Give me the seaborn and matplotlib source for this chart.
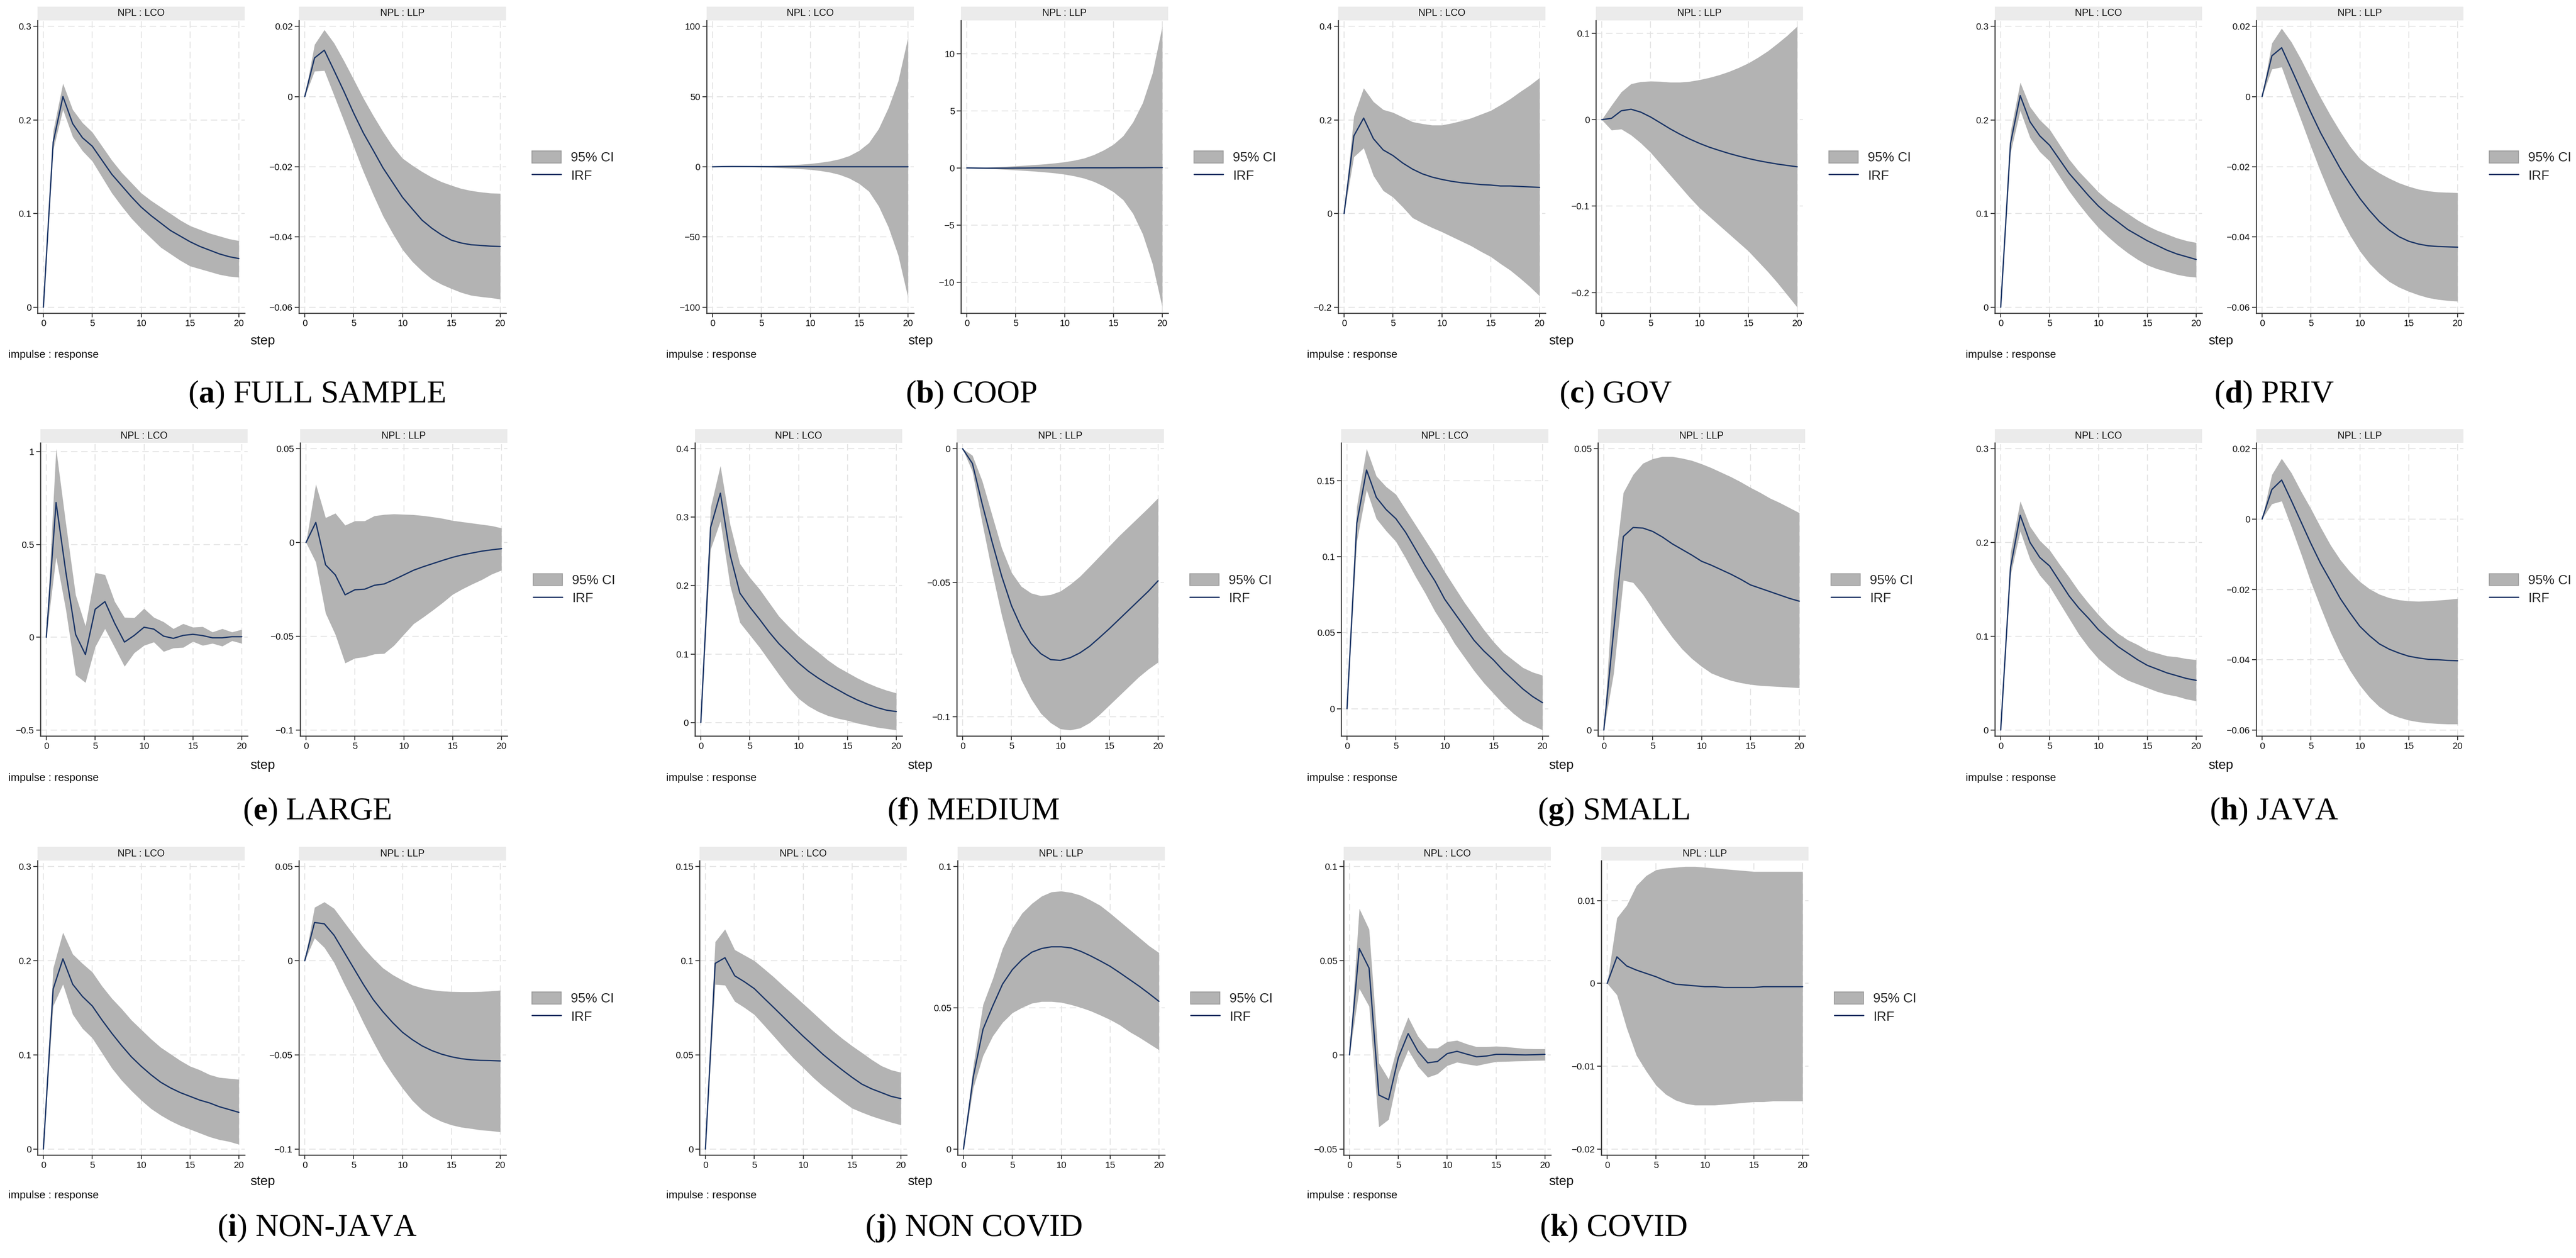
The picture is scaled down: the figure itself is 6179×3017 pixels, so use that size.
import matplotlib
matplotlib.use("Agg")
import matplotlib.pyplot as plt
import seaborn as sns
from matplotlib.patches import Rectangle, Patch
from matplotlib.lines import Line2D

# ---------------- data ----------------
STEPS = [0, 1, 2, 3, 4, 5, 6, 7, 8, 9, 10, 11, 12, 13, 14, 15, 16, 17, 18, 19, 20]
X_TICKS = [0, 5, 10, 15, 20]
PANEL_TITLES = ["NPL : LCO", "NPL : LLP"]
LEGEND_LABELS = ["95% CI", "IRF"]

# (a) FULL SAMPLE
A_LCO_IRF = [0, .176, .225, .196, .181, .172, .157, .142, .130, .118, .107, .098, .090, .082, .076, .070, .065, .061, .057, .054, .052]
A_LCO_LO = [0, .168, .211, .182, .167, .156, .139, .122, .108, .095, .084, .074, .064, .057, .050, .044, .041, .038, .035, .033, .032]
A_LCO_HI = [0, .188, .239, .211, .197, .187, .172, .157, .144, .133, .122, .114, .107, .100, .093, .087, .083, .079, .076, .073, .071]
A_LCO_TICKS = [0, 0.1, 0.2, 0.3]
A_LLP_IRF = [0, .0110, .0132, .0074, .0015, -.0047, -.0104, -.0153, -.0203, -.0245, -.0287, -.0320, -.0352, -.0375, -.0394, -.0409, -.0417, -.0422, -.0424, -.0426, -.0427]
A_LLP_LO = [0, .0072, .0074, .0003, -.0069, -.0142, -.0214, -.0279, -.0340, -.0390, -.0436, -.0470, -.0497, -.0520, -.0535, -.0547, -.0558, -.0566, -.0570, -.0573, -.0577]
A_LLP_HI = [0, .0148, .0190, .0152, .0102, .0049, -.0005, -.0054, -.0100, -.0142, -.0176, -.0196, -.0214, -.0230, -.0243, -.0253, -.0262, -.0268, -.0272, -.0275, -.0276]
A_LLP_TICKS = [-0.06, -0.04, -0.02, 0, 0.02]

# (b) COOP
B_LCO_IRF = [0, .15, .2, .18, .16, .14, .12, .1, .09, .08, .07, .06, .05, .05, .04, .04, .03, .03, .03, .02, .02]
B_LCO_LO = [0, -.05, -.05, -.1, -.2, -.35, -.5, -.75, -1.1, -1.5, -2.0, -2.8, -3.9, -5.6, -8.2, -12, -17.5, -28, -43, -63, -93]
B_LCO_HI = [0, .3, .4, .45, .5, .6, .75, 1.0, 1.3, 1.7, 2.2, 3.0, 4.0, 5.5, 7.8, 11.5, 17, 27, 42, 61, 92]
B_LCO_TICKS = [-100, -50, 0, 50, 100]
B_LLP_IRF = [0, -.01, -.02, -.02, -.02, -.01, -.01, 0, 0, 0, 0, 0, .01, .01, .01, .01, .02, .02, .02, .03, .03]
B_LLP_LO = [0, -.05, -.07, -.1, -.14, -.19, -.24, -.30, -.37, -.45, -.56, -.71, -.91, -1.2, -1.6, -2.1, -2.8, -4.0, -5.8, -8.4, -12.2]
B_LLP_HI = [0, .03, .05, .08, .12, .17, .22, .28, .34, .42, .52, .66, .85, 1.15, 1.55, 2.05, 2.8, 4.0, 5.7, 8.3, 12.4]
B_LLP_TICKS = [-10, -5, 0, 5, 10]

# (c) GOV
C_LCO_IRF = [0, .166, .204, .160, .136, .124, .108, .095, .085, .078, .073, .069, .066, .064, .062, .061, .059, .059, .058, .057, .056]
C_LCO_LO = [0, .121, .140, .081, .049, .035, .014, -.009, -.020, -.030, -.039, -.049, -.059, -.069, -.081, -.092, -.107, -.121, -.138, -.156, -.176]
C_LCO_HI = [0, .208, .268, .239, .222, .216, .206, .196, .192, .189, .189, .193, .198, .204, .212, .220, .232, .245, .260, .274, .290]
C_LCO_TICKS = [-0.2, 0, 0.2, 0.4]
C_LLP_IRF = [0, .0016, .0103, .0121, .0087, .0031, -.0037, -.0106, -.0168, -.0224, -.0274, -.0318, -.0355, -.0390, -.0421, -.0449, -.0474, -.0495, -.0514, -.0530, -.0545]
C_LLP_LO = [0, -.0121, -.0109, -.0178, -.0271, -.0380, -.0510, -.0640, -.0770, -.0900, -.1020, -.1120, -.1220, -.1320, -.1420, -.1520, -.1640, -.1760, -.1890, -.2030, -.2170]
C_LLP_HI = [0, .0165, .0320, .0414, .0439, .0445, .0442, .0433, .0433, .0442, .0461, .0486, .0517, .0555, .0601, .0654, .0720, .0794, .0882, .0975, .1080]
C_LLP_TICKS = [-0.2, -0.1, 0, 0.1]

# (d) PRIV
D_LCO_IRF = [0, .175, .226, .198, .183, .173, .158, .143, .131, .119, .108, .099, .091, .083, .077, .071, .066, .061, .057, .054, .051]
D_LCO_LO = [0, .165, .210, .181, .166, .156, .140, .124, .110, .097, .085, .075, .066, .058, .051, .045, .041, .038, .035, .033, .032]
D_LCO_HI = [0, .187, .240, .214, .200, .190, .174, .158, .145, .134, .123, .114, .107, .100, .093, .087, .082, .078, .074, .071, .069]
D_LCO_TICKS = [0, 0.1, 0.2, 0.3]
D_LLP_IRF = [0, .0116, .0139, .0078, .0016, -.0046, -.0104, -.0155, -.0205, -.0249, -.0290, -.0325, -.0356, -.0380, -.0399, -.0412, -.0420, -.0425, -.0427, -.0428, -.0429]
D_LLP_LO = [0, .0078, .0084, .0006, -.0068, -.0143, -.0215, -.0282, -.0343, -.0395, -.0440, -.0476, -.0504, -.0527, -.0543, -.0555, -.0565, -.0573, -.0578, -.0581, -.0583]
D_LLP_HI = [0, .0152, .0194, .0155, .0105, .0050, -.0004, -.0054, -.0100, -.0142, -.0177, -.0200, -.0218, -.0233, -.0246, -.0256, -.0264, -.0269, -.0272, -.0273, -.0274]
D_LLP_TICKS = [-0.06, -0.04, -0.02, 0, 0.02]

# (e) LARGE
E_LCO_IRF = [0, .726, .351, .015, -.093, .151, .192, .075, -.026, .010, .054, .044, .006, -.006, .010, .016, .009, -.003, -.003, .003, .003]
E_LCO_LO = [0, .431, .148, -.203, -.244, -.052, .046, -.055, -.157, -.084, -.044, -.026, -.077, -.058, -.055, -.023, -.044, -.033, -.048, -.019, -.033]
E_LCO_HI = [0, 1.016, .612, .228, .061, .348, .337, .192, .107, .105, .155, .107, .083, .046, .073, .054, .057, .028, .046, .028, .042]
E_LCO_TICKS = [-0.5, 0, 0.5, 1]
E_LLP_IRF = [0, .0107, -.0119, -.0173, -.0279, -.0252, -.0249, -.0228, -.0221, -.0198, -.0173, -.0148, -.0129, -.0112, -.0095, -.0079, -.0066, -.0056, -.0046, -.0039, -.0033]
E_LLP_LO = [0, -.0105, -.0377, -.0491, -.0643, -.0617, -.0610, -.0595, -.0592, -.0549, -.0491, -.0434, -.0398, -.0360, -.0320, -.0277, -.0248, -.0222, -.0198, -.0169, -.0148]
E_LLP_HI = [0, .0311, .0132, .0156, .0092, .0115, .0115, .0142, .0149, .0152, .0150, .0148, .0143, .0136, .0128, .0117, .0110, .0103, .0096, .0089, .0077]
E_LLP_TICKS = [-0.1, -0.05, 0, 0.05]

# (f) MEDIUM
F_LCO_IRF = [0, .285, .335, .245, .189, .169, .151, .132, .115, .101, .087, .075, .065, .056, .048, .040, .033, .027, .022, .018, .016]
F_LCO_LO = [0, .253, .294, .200, .146, .128, .110, .090, .070, .051, .035, .024, .016, .010, .006, .003, -.001, -.004, -.007, -.009, -.011]
F_LCO_HI = [0, .314, .375, .289, .232, .212, .195, .175, .155, .140, .126, .114, .103, .091, .081, .073, .065, .058, .052, .047, .043]
F_LCO_TICKS = [0, 0.1, 0.2, 0.3, 0.4]
F_LLP_IRF = [0, -.0055, -.0206, -.0346, -.0476, -.0586, -.0667, -.0727, -.0765, -.0787, -.0790, -.0780, -.0762, -.0737, -.0705, -.0672, -.0637, -.0602, -.0567, -.0532, -.0493]
F_LLP_LO = [0, -.0085, -.0276, -.0457, -.0622, -.0762, -.0863, -.0933, -.0988, -.1023, -.1046, -.1050, -.1043, -.1023, -.0993, -.0958, -.0923, -.0888, -.0853, -.0823, -.0797]
F_LLP_HI = [0, -.0025, -.0120, -.0246, -.0371, -.0462, -.0514, -.0539, -.0549, -.0545, -.0532, -.0507, -.0477, -.0440, -.0402, -.0364, -.0326, -.0291, -.0256, -.0221, -.0184]
F_LLP_TICKS = [-0.1, -0.05, 0]

# (g) SMALL
G_LCO_IRF = [0, .122, .157, .139, .131, .125, .116, .105, .094, .084, .072, .063, .054, .045, .038, .032, .025, .019, .013, .008, .004]
G_LCO_LO = [0, .110, .144, .125, .117, .110, .099, .087, .076, .064, .054, .043, .034, .025, .017, .010, .003, -.003, -.008, -.011, -.014]
G_LCO_HI = [0, .133, .171, .153, .146, .141, .131, .121, .111, .101, .090, .080, .070, .061, .052, .044, .037, .032, .027, .024, .022]
G_LCO_TICKS = [0, 0.05, 0.1, 0.15]
G_LLP_IRF = [0, .0175, .0344, .0360, .0359, .0353, .0343, .0331, .0321, .0311, .0300, .0293, .0285, .0277, .0268, .0258, .0252, .0246, .0240, .0234, .0229]
G_LLP_LO = [0, .0100, .0266, .0262, .0241, .0215, .0189, .0165, .0144, .0127, .0113, .0101, .0094, .0088, .0084, .0081, .0079, .0078, .0077, .0076, .0075]
G_LLP_HI = [0, .0270, .0422, .0454, .0474, .0482, .0486, .0486, .0483, .0479, .0473, .0466, .0458, .0450, .0441, .0431, .0422, .0412, .0404, .0395, .0386]
G_LLP_TICKS = [0, 0.05]

# (h) JAVA
H_LCO_IRF = [0, .173, .229, .200, .184, .175, .159, .143, .130, .119, .107, .098, .089, .082, .075, .069, .065, .061, .058, .055, .053]
H_LCO_LO = [0, .165, .212, .182, .165, .153, .136, .119, .102, .088, .076, .067, .059, .053, .049, .045, .041, .038, .036, .033, .031]
H_LCO_HI = [0, .189, .244, .217, .202, .192, .177, .163, .148, .135, .123, .112, .103, .096, .091, .085, .082, .079, .078, .076, .075]
H_LCO_TICKS = [0, 0.1, 0.2, 0.3]
H_LLP_IRF = [0, .0084, .0111, .0052, -.0009, -.0070, -.0127, -.0176, -.0226, -.0267, -.0305, -.0332, -.0355, -.0370, -.0381, -.0390, -.0395, -.0399, -.0400, -.0402, -.0403]
H_LLP_LO = [0, .0043, .0051, -.0023, -.0100, -.0180, -.0252, -.0321, -.0381, -.0431, -.0473, -.0507, -.0534, -.0553, -.0564, -.0572, -.0577, -.0580, -.0582, -.0583, -.0583]
H_LLP_HI = [0, .0126, .0172, .0131, .0078, .0029, -.0024, -.0074, -.0116, -.0150, -.0178, -.0199, -.0214, -.0224, -.0230, -.0233, -.0234, -.0233, -.0231, -.0229, -.0226]
H_LLP_TICKS = [-0.06, -0.04, -0.02, 0, 0.02]

# (i) NON-JAVA
I_LCO_IRF = [0, .170, .202, .175, .162, .152, .137, .123, .110, .098, .088, .079, .071, .065, .060, .056, .052, .049, .045, .042, .039]
I_LCO_LO = [0, .152, .175, .143, .128, .118, .102, .086, .073, .062, .052, .043, .036, .030, .025, .021, .017, .013, .010, .008, .005]
I_LCO_HI = [0, .192, .230, .207, .197, .188, .173, .160, .149, .137, .127, .117, .108, .101, .094, .088, .084, .079, .076, .075, .074]
I_LCO_TICKS = [0, 0.1, 0.2, 0.3]
I_LLP_IRF = [0, .0203, .0196, .0135, .0048, -.0039, -.0126, -.0206, -.0271, -.0329, -.0380, -.0419, -.0452, -.0477, -.0496, -.0510, -.0520, -.0526, -.0529, -.0530, -.0532]
I_LLP_LO = [0, .0120, .0070, -.0010, -.0119, -.0220, -.0329, -.0430, -.0525, -.0604, -.0677, -.0742, -.0793, -.0829, -.0854, -.0872, -.0884, -.0891, -.0899, -.0903, -.0909]
I_LLP_HI = [0, .0283, .0312, .0277, .0207, .0138, .0070, .0012, -.0039, -.0075, -.0104, -.0129, -.0145, -.0155, -.0161, -.0164, -.0165, -.0165, -.0164, -.0161, -.0157]
I_LLP_TICKS = [-0.1, -0.05, 0, 0.05]

# (j) NON COVID
J_LCO_IRF = [0, .0986, .1016, .0920, .0888, .0852, .0801, .0751, .0700, .0649, .0599, .0552, .0504, .0461, .0420, .0381, .0345, .0320, .0300, .0280, .0268]
J_LCO_LO = [0, .0874, .0870, .0784, .0751, .0714, .0657, .0599, .0540, .0483, .0432, .0381, .0335, .0294, .0254, .0217, .0195, .0175, .0158, .0142, .0128]
J_LCO_HI = [0, .1100, .1167, .1058, .1029, .1000, .0957, .0913, .0865, .0819, .0772, .0725, .0677, .0630, .0587, .0548, .0512, .0475, .0442, .0420, .0407]
J_LCO_TICKS = [0, 0.05, 0.1, 0.15]
J_LLP_IRF = [0, .0255, .0424, .0507, .0584, .0635, .0671, .0697, .0710, .0716, .0716, .0712, .0700, .0684, .0666, .0647, .0624, .0600, .0576, .0550, .0523]
J_LLP_LO = [0, .0216, .0330, .0400, .0448, .0482, .0501, .0516, .0522, .0522, .0519, .0511, .0501, .0489, .0474, .0458, .0439, .0415, .0395, .0373, .0351]
J_LLP_HI = [0, .0293, .0511, .0603, .0710, .0782, .0835, .0869, .0895, .0910, .0913, .0908, .0898, .0881, .0862, .0835, .0806, .0777, .0748, .0719, .0695]
J_LLP_TICKS = [0, 0.05, 0.1]

# (k) COVID
K_LCO_IRF = [0, .0565, .0461, -.0213, -.0238, -.0014, .0113, .0019, -.0042, -.0035, .0007, .0019, .0004, -.0010, -.0006, .0003, .0003, .0001, 0, .0001, .0003]
K_LCO_LO = [0, .0352, .0258, -.0383, -.0343, -.0097, .0026, -.0061, -.0119, -.0101, -.0057, -.0039, -.0049, -.0057, -.0046, -.0036, -.0035, -.0033, -.0032, -.0030, -.0029]
K_LCO_HI = [0, .0777, .0667, -.0043, -.0129, .0067, .0200, .0099, .0036, .0036, .0070, .0077, .0058, .0043, .0043, .0046, .0043, .0038, .0033, .0032, .0032]
K_LCO_TICKS = [-0.05, 0, 0.05, 0.1]
K_LLP_IRF = [0, .0032, .0021, .0016, .0012, .0008, .0003, -.0001, -.0002, -.0003, -.0004, -.0004, -.0005, -.0005, -.0005, -.0005, -.0004, -.0004, -.0004, -.0004, -.0004]
K_LLP_LO = [0, -.0014, -.0054, -.0087, -.0106, -.0123, -.0134, -.0141, -.0145, -.0147, -.0147, -.0147, -.0146, -.0145, -.0144, -.0143, -.0143, -.0142, -.0142, -.0142, -.0142]
K_LLP_HI = [0, .0079, .0094, .0118, .0130, .0137, .0139, .0140, .0141, .0141, .0140, .0139, .0138, .0137, .0136, .0135, .0135, .0135, .0135, .0135, .0135]
K_LLP_TICKS = [-0.02, -0.01, 0, 0.01]

LETTERS = ["a", "b", "c", "d", "e", "f", "g", "h", "i", "j", "k"]
NAMES = ["FULL SAMPLE", "COOP", "GOV", "PRIV", "LARGE", "MEDIUM", "SMALL", "JAVA",
         "NON-JAVA", "NON COVID", "COVID"]
SERIES = [
    ((A_LCO_IRF, A_LCO_LO, A_LCO_HI, A_LCO_TICKS), (A_LLP_IRF, A_LLP_LO, A_LLP_HI, A_LLP_TICKS)),
    ((B_LCO_IRF, B_LCO_LO, B_LCO_HI, B_LCO_TICKS), (B_LLP_IRF, B_LLP_LO, B_LLP_HI, B_LLP_TICKS)),
    ((C_LCO_IRF, C_LCO_LO, C_LCO_HI, C_LCO_TICKS), (C_LLP_IRF, C_LLP_LO, C_LLP_HI, C_LLP_TICKS)),
    ((D_LCO_IRF, D_LCO_LO, D_LCO_HI, D_LCO_TICKS), (D_LLP_IRF, D_LLP_LO, D_LLP_HI, D_LLP_TICKS)),
    ((E_LCO_IRF, E_LCO_LO, E_LCO_HI, E_LCO_TICKS), (E_LLP_IRF, E_LLP_LO, E_LLP_HI, E_LLP_TICKS)),
    ((F_LCO_IRF, F_LCO_LO, F_LCO_HI, F_LCO_TICKS), (F_LLP_IRF, F_LLP_LO, F_LLP_HI, F_LLP_TICKS)),
    ((G_LCO_IRF, G_LCO_LO, G_LCO_HI, G_LCO_TICKS), (G_LLP_IRF, G_LLP_LO, G_LLP_HI, G_LLP_TICKS)),
    ((H_LCO_IRF, H_LCO_LO, H_LCO_HI, H_LCO_TICKS), (H_LLP_IRF, H_LLP_LO, H_LLP_HI, H_LLP_TICKS)),
    ((I_LCO_IRF, I_LCO_LO, I_LCO_HI, I_LCO_TICKS), (I_LLP_IRF, I_LLP_LO, I_LLP_HI, I_LLP_TICKS)),
    ((J_LCO_IRF, J_LCO_LO, J_LCO_HI, J_LCO_TICKS), (J_LLP_IRF, J_LLP_LO, J_LLP_HI, J_LLP_TICKS)),
    ((K_LCO_IRF, K_LCO_LO, K_LCO_HI, K_LCO_TICKS), (K_LLP_IRF, K_LLP_LO, K_LLP_HI, K_LLP_TICKS)),
]

# ---------------- layout (pixels of the 6179x3017 canvas) ----------------
W, H, DPI = 6179, 3017, 200
ROWS = [(16, 49, 751), (1029, 1062, 1765), (2031, 2064, 2770)]   # strip top, axes top, axes bottom
STEP_Y = [818, 1836, 2834]
IMP_Y = [851, 1866, 2867]
CAP_Y = [946, 1946, 2945]
AX_W = 497
# row, lco_left, llp_left, step_x, impulse_left, caption_x
LAYOUT = [
    (0, 90, 717, 630, 20, 760), (0, 1695, 2305, 2208, 1598, 2330),
    (0, 3210, 3828, 3745, 3135, 3875), (0, 4785, 5412, 5327, 4715, 5455),
    (1, 97, 720, 630, 20, 760), (1, 1667, 2295, 2207, 1598, 2335),
    (1, 3217, 3833, 3745, 3135, 3870), (1, 4785, 5412, 5327, 4715, 5455),
    (2, 90, 717, 630, 20, 760), (2, 1678, 2297, 2207, 1598, 2335),
    (2, 3223, 3841, 3745, 3135, 3870),
]

BAND = "#B3B3B3"
NAVY = "#1B3566"
STRIP = "#EBEBEB"
AXC = "#333333"

sns.set_theme(style="white")
plt.rcParams["font.family"] = ["Liberation Sans", "DejaVu Sans"]
plt.rcParams["mathtext.fontset"] = "custom"
plt.rcParams["mathtext.rm"] = "Liberation Serif"
plt.rcParams["mathtext.bf"] = "Liberation Serif:bold"
plt.rcParams["axes.unicode_minus"] = True

fig = plt.figure(figsize=(W / DPI, H / DPI), dpi=DPI)
fig.patch.set_facecolor("white")


def fmt(v):
    return f"{v:g}".replace("-", "\u2212")


def draw_sub(left, row, series, title, legend):
    irf, lo, hi, ticks = series
    strip_top, top, bottom = ROWS[row]
    ax_h = bottom - top
    ax = fig.add_axes([left / W, 1 - bottom / H, AX_W / W, ax_h / H])
    ax.set_facecolor("white")
    ax.fill_between(STEPS, lo, hi, color=BAND, linewidth=0, zorder=2)
    sns.lineplot(x=STEPS, y=irf, ax=ax, color=NAVY, linewidth=1.1, zorder=3)
    vmin = min(min(lo), min(ticks))
    vmax = max(max(hi), max(ticks))
    pad = 0.021 * (vmax - vmin)
    ax.set_ylim(vmin - pad, vmax + pad)
    ax.set_xlim(-0.6, 20.6)
    ax.set_xticks(X_TICKS)
    ax.set_xticklabels([str(t) for t in X_TICKS])
    ax.set_yticks(ticks)
    ax.set_yticklabels([fmt(t) for t in ticks])
    ax.set_xlabel("")
    ax.set_ylabel("")
    ax.grid(True, color="#E4E4E4", linestyle=(0, (7, 4)), linewidth=0.8)
    ax.set_axisbelow(True)
    for s in ["top", "right"]:
        ax.spines[s].set_visible(False)
    for s in ["left", "bottom"]:
        ax.spines[s].set_visible(True)
        ax.spines[s].set_color(AXC)
        ax.spines[s].set_linewidth(0.9)
    ax.tick_params(direction="out", length=3.6, width=0.8, color=AXC, labelcolor="#111111",
                   labelsize=8, pad=1.8, left=True, bottom=True)
    sh = (top - strip_top) / ax_h
    ax.add_patch(Rectangle((0, 1), 1, sh, transform=ax.transAxes, clip_on=False,
                           facecolor=STRIP, edgecolor="none", zorder=1))
    ax.text(0.5, 1 + sh / 2, title, transform=ax.transAxes, ha="center", va="center",
            fontsize=8.5, color="#111111")
    if legend:
        handles = [Patch(facecolor=BAND, edgecolor="#9E9E9E", linewidth=0.8),
                   Line2D([], [], color=NAVY, linewidth=1.1)]
        ax.legend(handles, LEGEND_LABELS, loc="center left",
                  bbox_to_anchor=(1 + 62 / AX_W, 0.5), frameon=False, fontsize=11.4,
                  handlelength=2.2, handleheight=1.0, handletextpad=0.75,
                  labelspacing=0.35, borderpad=0, borderaxespad=0)
    return ax


for idx, (row, lco_x, llp_x, step_x, imp_x, cap_x) in enumerate(LAYOUT):
    lco_s, llp_s = SERIES[idx]
    draw_sub(lco_x, row, lco_s, PANEL_TITLES[0], False)
    draw_sub(llp_x, row, llp_s, PANEL_TITLES[1], True)
    fig.text(step_x / W, 1 - STEP_Y[row] / H, "step", ha="center", va="center",
             fontsize=11.4, color="#111111")
    fig.text(imp_x / W, 1 - IMP_Y[row] / H, "impulse : response", ha="left", va="center",
             fontsize=9.3, color="#111111")
    fig.text(cap_x / W, 1 - CAP_Y[row] / H,
             "($\\mathbf{" + LETTERS[idx] + "}$) " + NAMES[idx],
             ha="center", va="center", fontsize=27.5, family=["Liberation Serif", "DejaVu Serif"],
             color="black")

fig.savefig("out.png", dpi=DPI, facecolor="white")
